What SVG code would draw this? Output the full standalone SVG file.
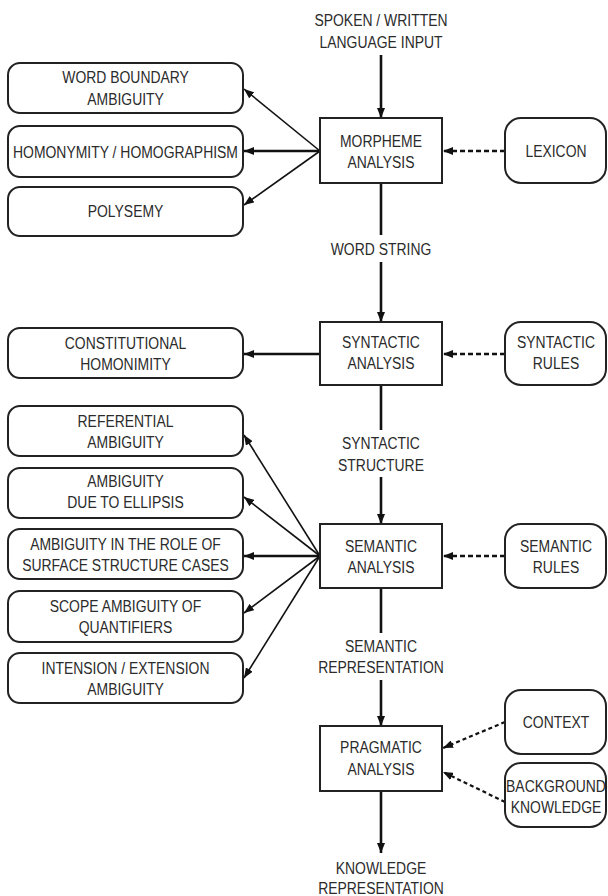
<svg xmlns="http://www.w3.org/2000/svg" width="608" height="896" viewBox="0 0 608 896">
<style>
text{font-family:"Liberation Sans",Arial,sans-serif;font-size:17px;fill:#2b2b2b;text-anchor:middle;transform-box:fill-box;transform-origin:center;transform:scaleX(0.82)}
.box{fill:#fff;stroke:#222;stroke-width:2}
.rbox{fill:#fff;stroke:#222;stroke-width:2}
.thin{fill:none;stroke:#111;stroke-width:1.6}
.thick{fill:none;stroke:#111;stroke-width:2.6}
.dash{fill:none;stroke:#111;stroke-width:2.6;stroke-dasharray:5,3}
.dash2{fill:none;stroke:#111;stroke-width:2.2;stroke-dasharray:4,3}
</style>
<defs>
<marker id="ah" markerUnits="userSpaceOnUse" markerWidth="10" markerHeight="8" refX="10" refY="4" orient="auto">
<path d="M0,0 L10,4 L0,8 z" fill="#111"/>
</marker>
</defs>
<g id="connectors">
<line class="thick" x1="381" y1="55" x2="381" y2="118" marker-end="url(#ah)"/>
<line class="thick" x1="381" y1="183" x2="381" y2="235"/>
<line class="thick" x1="381" y1="262" x2="381" y2="322" marker-end="url(#ah)"/>
<line class="thick" x1="381" y1="385" x2="381" y2="430"/>
<line class="thick" x1="381" y1="477" x2="381" y2="524" marker-end="url(#ah)"/>
<line class="thick" x1="381" y1="588" x2="381" y2="633"/>
<line class="thick" x1="381" y1="680" x2="381" y2="726" marker-end="url(#ah)"/>
<line class="thick" x1="381" y1="791" x2="381" y2="853" marker-end="url(#ah)"/>
<line class="thin" x1="320" y1="151" x2="244" y2="89" marker-end="url(#ah)"/>
<line class="thick" x1="320" y1="151" x2="244" y2="151" marker-end="url(#ah)"/>
<line class="thin" x1="320" y1="151" x2="244" y2="205" marker-end="url(#ah)"/>
<line class="dash" x1="505" y1="151" x2="443" y2="151" marker-end="url(#ah)"/>
<line class="thick" x1="320" y1="354" x2="244" y2="354" marker-end="url(#ah)"/>
<line class="dash" x1="505" y1="354" x2="443" y2="354" marker-end="url(#ah)"/>
<line class="thin" x1="320" y1="556" x2="244" y2="435" marker-end="url(#ah)"/>
<line class="thin" x1="320" y1="556" x2="244" y2="497" marker-end="url(#ah)"/>
<line class="thick" x1="320" y1="556" x2="244" y2="556" marker-end="url(#ah)"/>
<line class="thin" x1="320" y1="556" x2="244" y2="613" marker-end="url(#ah)"/>
<line class="thin" x1="320" y1="556" x2="244" y2="678" marker-end="url(#ah)"/>
<line class="dash" x1="505" y1="556" x2="443" y2="556" marker-end="url(#ah)"/>
<line class="dash2" x1="505" y1="722" x2="443" y2="748" marker-end="url(#ah)"/>
<line class="dash2" x1="505" y1="802" x2="443" y2="772" marker-end="url(#ah)"/>
</g>
<g id="input-label">
<text x="381" y="26">SPOKEN / WRITTEN</text>
<text x="381" y="48">LANGUAGE INPUT</text>
</g>
<g id="morpheme">
<rect class="box" x="320" y="118" width="122" height="65"/>
<text x="381" y="147">MORPHEME</text>
<text x="381" y="168">ANALYSIS</text>
</g>
<g id="lexicon">
<rect class="rbox" x="505" y="118" width="101" height="65" rx="16"/>
<text x="556" y="157">LEXICON</text>
</g>
<g id="word-boundary">
<rect class="rbox" x="8" y="63" width="235" height="50" rx="12"/>
<text x="125.5" y="83">WORD BOUNDARY</text>
<text x="125.5" y="105">AMBIGUITY</text>
</g>
<g id="homonymity">
<rect class="rbox" x="8" y="126" width="235" height="51" rx="12"/>
<text x="125.5" y="158">HOMONYMITY / HOMOGRAPHISM</text>
</g>
<g id="polysemy">
<rect class="rbox" x="8" y="187" width="235" height="49" rx="12"/>
<text x="125.5" y="217">POLYSEMY</text>
</g>
<g id="word-string-label">
<text x="381" y="255">WORD STRING</text>
</g>
<g id="syntactic">
<rect class="box" x="320" y="322" width="122" height="63"/>
<text x="381" y="348">SYNTACTIC</text>
<text x="381" y="369">ANALYSIS</text>
</g>
<g id="syntactic-rules">
<rect class="rbox" x="505" y="322" width="101" height="63" rx="16"/>
<text x="556" y="348">SYNTACTIC</text>
<text x="556" y="369">RULES</text>
</g>
<g id="constitutional">
<rect class="rbox" x="8" y="328" width="235" height="50" rx="12"/>
<text x="125.5" y="349">CONSTITUTIONAL</text>
<text x="125.5" y="370">HOMONIMITY</text>
</g>
<g id="syntactic-structure-label">
<text x="381" y="449">SYNTACTIC</text>
<text x="381" y="471">STRUCTURE</text>
</g>
<g id="referential">
<rect class="rbox" x="8" y="406" width="235" height="50" rx="12"/>
<text x="125.5" y="427">REFERENTIAL</text>
<text x="125.5" y="448">AMBIGUITY</text>
</g>
<g id="ellipsis">
<rect class="rbox" x="8" y="468" width="235" height="50" rx="12"/>
<text x="125.5" y="487">AMBIGUITY</text>
<text x="125.5" y="508">DUE TO ELLIPSIS</text>
</g>
<g id="role">
<rect class="rbox" x="8" y="529" width="235" height="50" rx="12"/>
<text x="125.5" y="550">AMBIGUITY IN THE ROLE OF</text>
<text x="125.5" y="571">SURFACE STRUCTURE CASES</text>
</g>
<g id="scope">
<rect class="rbox" x="8" y="591" width="235" height="51" rx="12"/>
<text x="125.5" y="612">SCOPE AMBIGUITY OF</text>
<text x="125.5" y="633">QUANTIFIERS</text>
</g>
<g id="intension">
<rect class="rbox" x="8" y="653" width="235" height="50" rx="12"/>
<text x="125.5" y="674">INTENSION / EXTENSION</text>
<text x="125.5" y="695">AMBIGUITY</text>
</g>
<g id="semantic">
<rect class="box" x="320" y="524" width="122" height="64"/>
<text x="381" y="552">SEMANTIC</text>
<text x="381" y="573">ANALYSIS</text>
</g>
<g id="semantic-rules">
<rect class="rbox" x="505" y="524" width="101" height="64" rx="16"/>
<text x="556" y="552">SEMANTIC</text>
<text x="556" y="573">RULES</text>
</g>
<g id="semantic-representation-label">
<text x="381" y="652">SEMANTIC</text>
<text x="381" y="673">REPRESENTATION</text>
</g>
<g id="pragmatic">
<rect class="box" x="320" y="726" width="122" height="65"/>
<text x="381" y="753">PRAGMATIC</text>
<text x="381" y="775">ANALYSIS</text>
</g>
<g id="context">
<rect class="rbox" x="505" y="690" width="101" height="64" rx="16"/>
<text x="556" y="728">CONTEXT</text>
</g>
<g id="background">
<rect class="rbox" x="505" y="763" width="101" height="64" rx="16"/>
<text x="556" y="792">BACKGROUND</text>
<text x="556" y="813">KNOWLEDGE</text>
</g>
<g id="output-label">
<text x="381" y="874">KNOWLEDGE</text>
<text x="381" y="894">REPRESENTATION</text>
</g>
</svg>
